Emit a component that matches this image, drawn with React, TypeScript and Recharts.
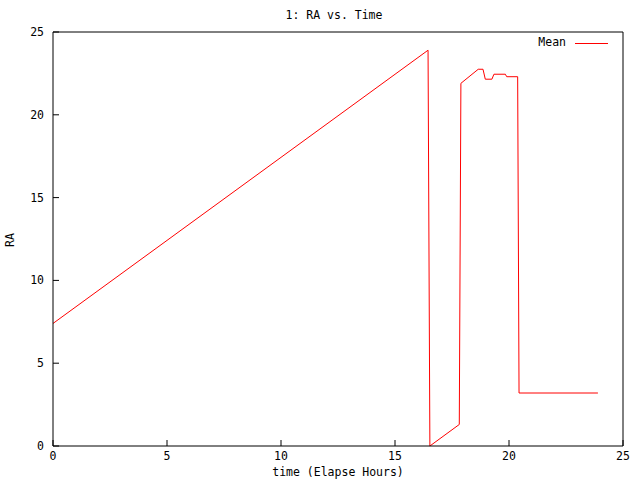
import { Line, LineChart, XAxis, YAxis } from "recharts";

// elapsed hours and mean RA
const hours = [0, 16.45, 16.53, 17.82, 17.89, 18.65, 18.86, 18.96, 19.25, 19.34, 19.84, 19.9, 20.38, 20.44, 23.9];
const meanRA = [7.4, 23.9, 0, 1.3, 21.9, 22.75, 22.75, 22.15, 22.15, 22.45, 22.45, 22.3, 22.3, 3.2, 3.2];

const xTicks = [0, 5, 10, 15, 20, 25];
const yTicks = [0, 5, 10, 15, 20, 25];

const data = hours.map((t, i) => ({ t, ra: meanRA[i] }));

const FONT = "'DejaVu Sans Mono', monospace";
const tickStyle = { fontSize: 11.5, fill: "#000", fontFamily: FONT };

export default function App() {
  return (
    <div style={{ position: "relative", width: 640, height: 480, background: "#fff", fontFamily: FONT }}>
      <style>{"body{margin:0}"}</style>
      <LineChart width={640} height={480} data={data} margin={{ top: 0, right: 0, bottom: 0, left: 0 }}>
        <XAxis
          xAxisId="b"
          dataKey="t"
          type="number"
          domain={[0, 25]}
          ticks={xTicks}
          height={34}
          stroke="#000"
          tickSize={-6}
          tickMargin={12}
          tick={tickStyle}
        />
        <XAxis
          xAxisId="t"
          orientation="top"
          dataKey="t"
          type="number"
          domain={[0, 25]}
          ticks={xTicks}
          height={32}
          stroke="#000"
          tickSize={-6}
          tick={false}
        />
        <YAxis
          yAxisId="l"
          type="number"
          domain={[0, 25]}
          ticks={yTicks}
          width={53}
          stroke="#000"
          tickSize={-6}
          tickMargin={15}
          tick={tickStyle}
        />
        <YAxis
          yAxisId="r"
          orientation="right"
          type="number"
          domain={[0, 25]}
          ticks={yTicks}
          width={17}
          stroke="#000"
          tickSize={-6}
          tick={false}
        />
        <Line
          xAxisId="b"
          yAxisId="l"
          type="linear"
          dataKey="ra"
          stroke="#ff0000"
          strokeWidth={1}
          dot={false}
          isAnimationActive={false}
        />
      </LineChart>
      <div style={{ position: "absolute", top: 8, left: 0, width: 668, textAlign: "center", fontSize: 11.5 }}>
        1: RA vs. Time
      </div>
      <div style={{ position: "absolute", top: 465, left: 0, width: 676, textAlign: "center", fontSize: 11.5 }}>
        time (Elapse Hours)
      </div>
      <div
        style={{
          position: "absolute",
          left: 10,
          top: 240,
          fontSize: 11.5,
          transform: "translate(-50%, -50%) rotate(-90deg)",
        }}
      >
        RA
      </div>
      <div style={{ position: "absolute", top: 35, left: 500, width: 66, textAlign: "right", fontSize: 11.5 }}>
        Mean
      </div>
      <div style={{ position: "absolute", top: 43, left: 575, width: 33, height: 1, background: "#ff0000" }} />
    </div>
  );
}
